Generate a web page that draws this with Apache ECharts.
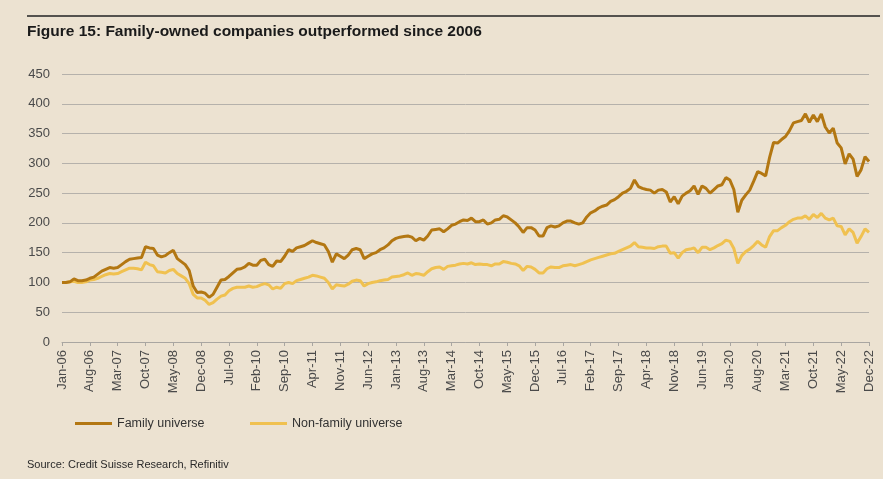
<!DOCTYPE html>
<html lang="en">
<head>
    <meta charset="UTF-8">
    <title>Figure 15</title>
    <style>
        html, body { margin: 0; padding: 0; background: #ECE2D1; }
    </style>
</head>
<body>
<div id="container" style="width: 883px;height:479px;"></div>

<script src="https://cdn.jsdelivr.net/npm/echarts@6/dist/echarts.min.js"></script>
<script type="text/javascript">

// month labels Jan-06 .. Dec-22
var monthNames = ['Jan','Feb','Mar','Apr','May','Jun','Jul','Aug','Sep','Oct','Nov','Dec'];
var years = ['06','07','08','09','10','11','12','13','14','15','16','17','18','19','20','21','22'];

// index, rebased to 100 in Jan-06 (one row per year)
var familyUniverse = [
  100,100,101,106,103,103,104,107,109,114,119,122,
  125,124,125,130,135,139,140,141,142,160,158,157,
  146,143,145,150,154,140,135,130,120,94,83,84,
  82,75,80,92,104,105,110,116,122,123,126,132,
  129,129,137,139,130,127,136,135,144,155,152,158,
  160,162,166,170,167,165,163,152,134,148,144,140,
  146,155,157,155,140,144,148,150,155,158,163,170,
  174,176,177,178,176,170,174,171,178,188,189,190,
  185,190,196,198,202,205,204,208,202,202,205,198,
  200,205,206,212,210,205,200,193,184,192,192,188,
  178,178,192,195,193,195,200,203,203,200,198,200,
  210,217,220,225,228,230,236,239,244,250,253,258,
  272,261,258,256,255,250,255,256,252,235,244,232,
  245,250,254,262,248,262,258,250,256,262,264,276,
  272,256,218,238,247,255,270,286,283,279,310,335,
  334,340,345,355,368,370,372,383,369,381,370,383,
  361,351,359,334,326,299,316,307,278,289,311,303
];

var nonFamilyUniverse = [
  100,100,101,102,100,100,101,104,105,107,110,113,
  115,114,115,118,121,124,124,123,121,134,130,128,
  118,117,116,120,122,115,111,107,98,80,74,74,
  70,63,66,72,77,79,86,90,92,92,92,94,
  92,93,96,98,96,89,92,90,98,100,98,103,
  105,107,109,112,111,109,107,100,89,96,95,94,
  97,102,104,103,94,98,100,101,103,104,105,109,
  110,111,113,116,112,115,114,112,118,123,125,126,
  122,127,128,129,131,132,131,133,130,131,130,130,
  128,131,131,135,134,132,131,128,120,127,126,122,
  116,116,123,126,125,125,128,129,130,128,130,132,
  135,138,140,142,144,146,148,149,152,155,158,161,
  167,160,159,158,158,157,160,161,161,149,150,141,
  150,155,156,158,150,159,159,155,158,162,165,171,
  169,157,132,145,152,156,162,169,163,159,177,187,
  187,192,196,202,206,208,208,212,206,214,209,216,
  208,205,208,195,194,180,190,184,166,177,190,184
];

var categories = [];
for (var y = 0; y < years.length; y++) {
  for (var m = 0; m < monthNames.length; m++) {
    categories.push(monthNames[m] + '-' + years[y]);
  }
}

var yTicks = { min: 0, max: 450, interval: 50 };

var fontName = '"Liberation Sans", Arial, sans-serif';
var familyColor = '#B37712';
var nonFamilyColor = '#F0C150';

var dom = document.getElementById("container");
var myChart = echarts.init(dom, null, {renderer: 'canvas'});
var option = {
    backgroundColor: '#ECE2D1',
    animation: false,
    textStyle: { fontFamily: fontName },
    title: [
      {
        text: 'Figure 15: Family-owned companies outperformed since 2006',
        left: 22,
        top: 19,
        textStyle: { fontSize: 15.5, fontWeight: 'bold', color: '#1a1a1a', fontFamily: fontName }
      },
      {
        text: 'Source: Credit Suisse Research, Refinitiv',
        left: 22,
        top: 454,
        textStyle: { fontSize: 11, fontWeight: 'normal', color: '#2a2a2a', fontFamily: fontName }
      }
    ],
    // thin rule above the title
    graphic: [
      {
        type: 'line',
        shape: { x1: 27, y1: 16, x2: 880, y2: 16 },
        style: { stroke: '#222', lineWidth: 1.5 }
      }
    ],
    legend: [
      {
        data: ['Family universe'],
        left: 70, top: 412,
        icon: 'rect', itemWidth: 37, itemHeight: 3,
        textStyle: { fontSize: 12.5, color: '#333', fontFamily: fontName }
      },
      {
        data: ['Non-family universe'],
        left: 245, top: 412,
        icon: 'rect', itemWidth: 37, itemHeight: 3,
        textStyle: { fontSize: 12.5, color: '#333', fontFamily: fontName }
      }
    ],
    grid: {
        left: 62,
        right: 14,
        top: 74,
        bottom: 137,
        containLabel: false
    },
    xAxis: {
        type: 'category',
        boundaryGap: false,
        data: categories,
        axisLine: { lineStyle: { color: '#A9A6A1', width: 1 } },
        axisTick: { interval: 6, length: 4, lineStyle: { color: '#A9A6A1' } },
        axisLabel: {
            interval: 6,
            rotate: 90,
            margin: 8,
            fontSize: 13,
            color: '#4a4a4a',
            fontFamily: fontName
        },
        splitLine: { show: false }
    },
    yAxis: {
        type: 'value',
        min: yTicks.min,
        max: yTicks.max,
        interval: yTicks.interval,
        axisLine: { show: false },
        axisTick: { show: false },
        axisLabel: { fontSize: 13, color: '#4a4a4a', margin: 12, fontFamily: fontName },
        splitLine: { lineStyle: { color: '#B5B1AB', width: 1 } }
    },
    series: [
      {
        name: 'Family universe',
        type: 'line',
        data: familyUniverse,
        showSymbol: false,
        symbol: 'none',
        color: familyColor,
        lineStyle: { width: 3, color: familyColor },
        z: 3
      },
      {
        name: 'Non-family universe',
        type: 'line',
        data: nonFamilyUniverse,
        showSymbol: false,
        symbol: 'none',
        color: nonFamilyColor,
        lineStyle: { width: 3, color: nonFamilyColor },
        z: 2
      }
    ]
};

myChart.setOption(option);
</script>
</body>
</html>
